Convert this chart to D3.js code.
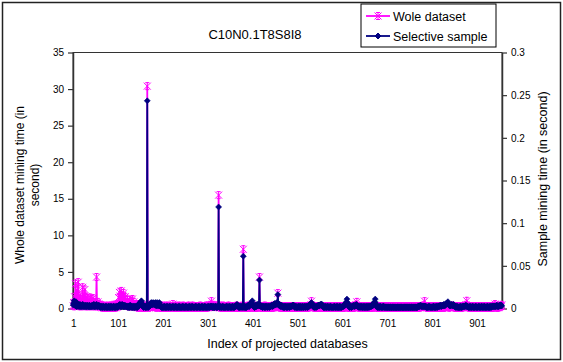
<!DOCTYPE html>
<html>
<head>
<meta charset="utf-8">
<script src="https://cdn.jsdelivr.net/npm/d3@7"></script>
<style>
  body { margin: 0; background: #fff; }
  svg { display: block; }
  text { font-family: "Liberation Sans", Arial, sans-serif; fill: #000; }
</style>
</head>
<body>
<svg id="chart" width="563" height="362"></svg>
<script>
// ---- data -------------------------------------------------------------
const chartTitle = "C10N0.1T8S8I8";
const seriesNames = ["Wole dataset", "Selective sample"];
const xTitle = "Index of projected databases";
const leftTitleLines = ["Whole dataset mining time (in", "second)"];
const rightTitle = "Sample mining time (in second)";
const xTickLabels = [1, 101, 201, 301, 401, 501, 601, 701, 801, 901];
const leftTicks = [0, 5, 10, 15, 20, 25, 30, 35];
const rightTicks = [0, 0.05, 0.1, 0.15, 0.2, 0.25, 0.3];

// mining time of the whole dataset, seconds, per projected database (index 1..956)
const wholeSec = [
  0.4,0.8,0.3,1.6,0.5,3.4,0.6,1.2,0.4,2.5,0.7,3.6,0.5,1.1,0.3,1.8,0.6,0.4,1.3,0.5,
  0.3,2.9,0.6,1.5,0.4,0.8,2.6,0.5,0.3,1.6,0.4,0.7,1.4,0.3,0.5,1.2,0.4,0.6,1.5,0.3,
  0.5,1.3,0.4,0.6,1.4,0.3,0.5,0.9,0.4,0.6,0.3,0.8,4.3,0.5,0.3,0.9,0.4,0.6,0.3,0.5,
  0.3,0.5,0.2,0.4,0.3,0.1,0.4,0.2,0.3,0.2,0.1,0.2,0.3,0.1,0.2,0.4,0.1,0.2,0.3,0.2,
  0.2,0.1,0.3,0.4,0.2,0.3,0.1,0.2,0.2,0.5,0.1,0.3,0.2,0.3,0.1,0.2,0.4,0.3,0.2,0.6,
  0.6,1.5,0.5,2.2,0.8,1.7,0.5,2.4,1.0,0.6,1.8,0.5,2.1,0.7,1.4,0.5,1.6,0.4,0.9,0.5,
  0.4,1.2,0.5,0.3,0.9,0.4,1.2,0.5,0.3,1.0,0.4,0.6,1.3,0.4,0.3,0.9,0.5,0.3,0.6,0.4,
  0.5,0.2,0.3,0.6,0.1,0.3,0.5,0.2,0.3,0.1,0.3,0.6,0.2,0.3,0.1,0.4,0.2,0.3,0.1,0.3,
  0.2,0.4,0.1,0.3,0.2,30.4,0.3,0.2,0.4,0.1,0.3,0.3,0.2,0.4,0.3,0.5,0.2,0.3,0.6,0.3,
  0.4,0.2,0.3,0.5,0.3,0.1,0.4,0.2,0.3,0.3,0.5,0.2,0.1,0.3,0.3,0.2,0.4,0.1,0.3,0.2,
  0.3,0.1,0.3,0.2,0.4,0.1,0.2,0.3,0.3,0.1,0.2,0.4,0.3,0.1,0.3,0.2,0.3,0.1,0.2,0.3,
  0.3,0.2,0.6,0.1,0.3,0.2,0.3,0.1,0.4,0.2,0.3,0.1,0.3,0.2,0.1,0.3,0.4,0.2,0.1,0.3,
  0.2,0.3,0.1,0.3,0.2,0.4,0.1,0.2,0.3,0.1,0.3,0.2,0.1,0.3,0.2,0.3,0.1,0.4,0.2,0.3,
  0.1,0.2,0.3,0.3,0.1,0.2,0.4,0.1,0.3,0.2,0.3,0.1,0.2,0.3,0.1,0.3,0.2,0.1,0.3,0.2,
  0.3,0.1,0.2,0.4,0.3,0.1,0.2,0.3,0.1,0.3,0.2,0.1,0.3,0.2,0.3,0.1,0.4,0.2,0.3,0.1,
  0.3,0.2,0.3,0.4,0.2,0.5,0.3,0.4,1.0,0.3,0.4,0.2,0.3,0.5,0.3,0.2,0.4,0.3,0.3,0.2,
  0.3,0.4,0.2,0.3,15.5,0.3,0.2,0.4,0.1,0.3,0.2,0.3,0.1,0.3,0.4,0.2,0.1,0.3,0.2,0.3,
  0.1,0.3,0.2,0.3,0.1,0.2,0.4,0.3,0.1,0.2,0.3,0.1,0.3,0.2,0.1,0.3,0.2,0.3,0.1,0.2,
  0.3,0.2,0.3,0.1,0.4,0.3,0.2,0.1,0.3,0.2,0.3,0.1,0.2,0.3,0.1,0.3,0.2,0.4,0.1,8.1,
  0.2,0.3,0.1,0.3,0.2,0.1,0.3,0.2,0.3,0.1,0.4,0.2,0.1,0.3,0.2,0.3,0.1,0.3,0.2,0.5,
  0.3,0.2,0.3,0.1,0.3,0.2,0.1,0.3,0.2,0.3,0.1,0.2,0.3,0.2,0.3,4.3,0.2,0.3,0.1,0.3,
  0.2,0.1,0.3,0.2,0.3,0.1,0.2,0.4,0.1,0.3,0.2,0.3,0.1,0.2,0.3,0.1,0.3,0.2,0.1,0.3,
  0.2,0.3,0.1,0.3,0.2,0.4,0.1,0.2,0.3,0.3,0.2,0.4,0.3,0.3,0.5,0.3,2.1,0.3,0.3,0.2,
  0.3,0.1,0.3,0.2,0.3,0.1,0.2,0.3,0.1,0.3,0.2,0.1,0.3,0.2,0.3,0.1,0.2,0.3,0.1,0.3,
  0.2,0.3,0.1,0.3,0.2,0.1,0.3,0.2,0.3,0.1,0.3,0.3,0.2,0.1,0.3,0.2,0.3,0.1,0.2,0.3,
  0.1,0.3,0.2,0.3,0.1,0.2,0.3,0.1,0.3,0.2,0.1,0.3,0.2,0.3,0.1,0.3,0.2,0.1,0.3,0.2,
  0.3,0.1,0.2,0.3,0.1,0.3,0.2,0.3,0.4,0.3,0.5,1.0,0.4,0.3,0.3,0.2,0.3,0.1,0.2,0.3,
  0.1,0.3,0.2,0.3,0.1,0.2,0.3,0.1,0.3,0.2,0.3,0.1,0.2,0.3,0.3,0.2,0.1,0.3,0.2,0.3,
  0.1,0.2,0.3,0.1,0.3,0.2,0.1,0.3,0.2,0.3,0.1,0.3,0.2,0.1,0.3,0.2,0.3,0.1,0.2,0.3,
  0.1,0.3,0.2,0.3,0.1,0.2,0.3,0.1,0.3,0.2,0.1,0.3,0.2,0.3,0.1,0.2,0.3,0.1,0.3,0.2,
  0.3,0.1,0.2,0.3,0.1,0.3,0.2,0.3,0.3,0.4,0.3,0.2,0.3,0.1,0.2,0.3,0.1,0.3,0.2,0.1,
  0.3,0.2,0.3,0.1,0.2,0.3,0.1,0.3,0.4,0.3,0.5,0.4,0.9,0.3,0.3,0.2,0.3,0.1,0.3,0.2,
  0.1,0.3,0.2,0.3,0.1,0.2,0.3,0.1,0.3,0.2,0.3,0.1,0.2,0.3,0.1,0.3,0.2,0.1,0.3,0.2,
  0.3,0.1,0.2,0.3,0.1,0.3,0.2,0.3,0.1,0.2,0.3,0.3,0.4,0.3,0.3,0.2,0.1,0.3,0.2,0.3,
  0.1,0.2,0.3,0.1,0.3,0.2,0.1,0.3,0.2,0.3,0.1,0.3,0.2,0.1,0.3,0.2,0.3,0.1,0.2,0.3,
  0.2,0.1,0.3,0.2,0.1,0.3,0.2,0.1,0.3,0.2,0.1,0.3,0.2,0.3,0.1,0.2,0.3,0.1,0.2,0.3,
  0.1,0.3,0.2,0.1,0.3,0.2,0.3,0.1,0.2,0.3,0.1,0.2,0.3,0.1,0.3,0.2,0.1,0.3,0.2,0.1,
  0.3,0.2,0.1,0.3,0.2,0.1,0.3,0.2,0.1,0.3,0.2,0.3,0.1,0.2,0.3,0.1,0.2,0.3,0.1,0.3,
  0.2,0.1,0.3,0.2,0.3,0.1,0.2,0.3,0.1,0.3,0.2,0.3,0.1,0.2,0.3,0.3,0.2,0.3,0.3,0.4,
  0.3,0.3,0.4,1.0,0.3,0.3,0.2,0.3,0.1,0.3,0.2,0.3,0.1,0.2,0.3,0.1,0.3,0.2,0.3,0.1,
  0.2,0.3,0.1,0.3,0.2,0.1,0.3,0.2,0.3,0.1,0.2,0.3,0.1,0.3,0.2,0.3,0.1,0.2,0.3,0.1,
  0.3,0.2,0.1,0.3,0.3,0.2,0.3,0.1,0.3,0.2,0.3,0.3,0.2,0.4,0.3,0.3,0.2,0.3,0.1,0.3,
  0.2,0.3,0.3,0.2,0.3,0.4,0.3,0.3,0.2,0.3,0.1,0.3,0.2,0.3,0.1,0.2,0.3,0.1,0.3,0.2,
  0.1,0.3,0.2,0.3,0.1,0.2,0.3,0.1,0.3,0.2,0.3,0.3,0.3,0.4,0.3,0.5,0.3,1.05,0.4,0.3,
  0.2,0.3,0.1,0.3,0.2,0.1,0.3,0.2,0.3,0.1,0.2,0.3,0.1,0.3,0.2,0.3,0.1,0.2,0.3,0.1,
  0.3,0.2,0.1,0.3,0.2,0.3,0.1,0.2,0.3,0.1,0.3,0.2,0.3,0.1,0.2,0.3,0.1,0.3,0.2,0.1,
  0.3,0.2,0.3,0.1,0.2,0.3,0.1,0.2,0.3,0.1,0.3,0.2,0.1,0.3,0.2,0.3,0.1,0.2,0.3,0.4,
  0.6,0.3,0.2,0.3,0.1,0.3,0.2,0.1,0.3,0.2,0.3,0.3,0.4,0.3,0.3,0.5
];

// mining time of the selective sample, milliseconds, same databases
const sampleMs = [
  4,6,9,7,5,3,8,4,2,6,5,3,4,2,3,5,2,4,3,2,
  3,5,2,4,3,2,3,4,2,3,2,4,3,2,3,2,4,2,3,2,
  3,2,4,3,2,3,5,2,3,2,4,3,5,2,3,2,3,4,2,3,
  2,1,2,3,1,2,1,3,2,1,2,1,2,3,1,2,1,2,1,3,
  2,1,2,1,3,2,1,2,1,2,3,1,2,1,2,1,3,2,1,2,
  3,2,4,3,5,2,4,3,2,5,3,4,2,3,2,4,3,2,3,2,
  2,3,1,2,3,1,2,4,2,1,3,2,1,2,3,1,2,1,3,2,
  1,2,3,1,2,4,3,5,6,7,5,8,9,6,4,3,2,1,2,3,
  2,1,3,2,1,243.4,2,1,3,2,4,3,5,6,7,5,6,4,7,6,
  5,6,4,7,5,3,6,7,4,3,5,6,7,4,3,2,3,1,2,1,
  2,1,2,3,1,2,1,2,1,3,2,1,2,1,2,3,1,2,1,2,
  1,2,3,1,2,1,2,1,3,2,1,2,1,2,1,2,3,1,2,1,
  2,1,2,1,3,2,1,2,1,2,1,3,2,1,2,1,2,1,2,3,
  1,2,1,2,1,3,2,1,2,1,2,1,2,3,1,2,1,2,1,2,
  3,1,2,1,2,1,2,3,1,2,1,2,1,3,2,1,2,1,2,1,
  2,3,1,2,1,2,3,2,3,2,1,2,3,1,2,1,2,3,2,1,
  2,1,3,2,119,2,1,3,2,1,2,1,2,3,1,2,1,2,1,2,
  1,2,3,1,2,1,2,1,3,2,1,2,1,2,1,3,2,1,2,1,
  2,3,2,3,4,5,4,3,2,1,2,1,3,2,1,2,3,2,1,61.3,
  2,1,3,2,1,2,1,2,3,2,4,3,2,4,5,6,4,7,6,9,
  5,4,3,2,1,3,2,4,2,3,5,3,4,5,3,33.3,3,4,2,3,
  2,3,1,2,3,2,1,2,3,1,2,3,2,1,2,3,2,1,2,3,
  2,3,4,3,2,4,3,5,4,6,5,4,6,5,7,5,16.3,6,4,5,
  3,4,2,3,4,2,3,2,1,2,3,1,2,3,2,1,2,3,1,2,
  2,3,1,2,3,2,3,2,3,4,3,4,3,2,1,2,3,1,2,1,
  2,1,3,2,1,2,3,1,2,1,2,3,1,2,1,2,3,2,1,2,
  3,2,1,2,3,2,4,3,5,4,6,7,5,4,3,2,3,1,2,3,
  2,1,2,3,2,3,4,3,4,3,4,5,4,5,5,4,3,2,1,2,
  1,2,3,1,2,1,2,3,1,2,1,2,1,3,2,1,2,1,2,1,
  2,1,3,2,1,2,1,2,3,1,2,1,2,1,3,2,1,2,1,2,
  2,3,2,4,3,5,4,6,5,8,11,7,5,4,3,2,1,2,3,2,
  1,2,3,2,3,4,3,2,3,4,3,5,4,3,2,3,2,1,2,3,
  2,1,2,3,1,2,1,2,3,1,2,1,2,3,1,2,1,3,2,1,
  2,3,2,3,2,3,4,3,4,5,6,7,8,11,6,4,3,2,1,2,
  2,1,2,1,3,2,1,2,1,2,1,3,2,1,2,1,2,1,2,1,
  1,2,1,2,1,1,2,1,2,1,1,2,1,2,1,1,2,1,1,2,
  1,1,2,1,2,1,1,2,1,1,2,1,2,1,1,2,1,1,2,1,
  2,1,1,2,1,2,1,1,2,1,2,1,1,2,1,2,1,1,2,1,
  1,2,1,2,1,1,2,1,2,3,2,3,2,3,4,3,2,3,2,3,
  2,3,2,3,2,3,2,1,2,1,2,1,2,3,2,1,2,1,2,1,
  2,1,2,3,1,2,1,2,1,3,2,1,2,3,2,3,2,3,4,3,
  2,3,4,3,4,3,5,4,3,4,5,6,5,6,7,8,6,5,4,3,
  4,3,4,5,4,3,4,5,4,3,2,3,2,1,2,3,2,1,2,1,
  2,1,2,3,1,2,1,2,3,2,3,2,3,2,3,4,3,2,3,2,
  2,1,2,1,3,2,1,2,1,2,3,1,2,1,2,1,2,3,1,2,
  1,2,1,2,3,1,2,1,2,1,3,2,1,2,1,2,3,1,2,1,
  2,1,2,3,1,2,1,2,1,3,2,1,2,3,2,3,2,3,2,3,
  2,3,2,3,4,3,2,3,2,3,4,3,4,3,4,3
];

// ---- layout -------------------------------------------------------------
const W = 563, H = 362;
const plot = { left: 73, right: 502, top: 52.5, bottom: 308.5 };
const colWhole = "#FF00FF", colSample = "#000080", axisCol = "#333";

const svg = d3.select("#chart");
const N = wholeSec.length;

const x = d3.scaleLinear().domain([0.5, N + 0.5]).range([plot.left, plot.right]);
const yL = d3.scaleLinear().domain([0, 35]).range([plot.bottom, plot.top]);
const yR = d3.scaleLinear().domain([0, 0.3]).range([plot.bottom, plot.top]);

const wholePts = wholeSec.map((v, i) => ({ i: i + 1, v }));
const samplePts = sampleMs.map((v, i) => ({ i: i + 1, v: v / 1000 }));

// outer chart frame
svg.append("rect").attr("x", 2.5).attr("y", 2.5).attr("width", W - 5).attr("height", H - 5)
  .attr("fill", "#fff").attr("stroke", "#222").attr("stroke-width", 1.5);

// plot-area frame
svg.append("rect").attr("x", plot.left).attr("y", plot.top)
  .attr("width", plot.right - plot.left).attr("height", plot.bottom - plot.top)
  .attr("fill", "none").attr("stroke", axisCol).attr("stroke-width", 1);

// axes
const fmtR = d3.format("~g");
const gL = svg.append("g").attr("transform", `translate(${plot.left},0)`)
  .call(d3.axisLeft(yL).tickValues(leftTicks).tickSizeInner(5).tickSizeOuter(0).tickPadding(4));
const gR = svg.append("g").attr("transform", `translate(${plot.right},0)`)
  .call(d3.axisRight(yR).tickValues(rightTicks).tickFormat(fmtR).tickSizeInner(5).tickSizeOuter(0).tickPadding(4));
const gB = svg.append("g").attr("transform", `translate(0,${plot.bottom})`)
  .call(d3.axisBottom(x).tickValues(xTickLabels).tickSize(0).tickPadding(11));
[gL, gR, gB].forEach(g => {
  g.selectAll(".domain").attr("stroke", axisCol).attr("stroke-width", 1.5);
  g.selectAll(".tick line").attr("stroke", axisCol).attr("stroke-width", 1.2);
  g.selectAll("text").attr("font-size", 10).attr("fill", "#000")
    .attr("font-family", '"Liberation Sans", Arial, sans-serif');
});

// markers
const starPath = "M-3.5,-3.5L3.5,3.5M-3.5,3.5L3.5,-3.5M0,-4L0,4M-2,-3.5L2,-3.5M-2,3.5L2,3.5";
const diamondPath = "M0,-3L3,0L0,3L-3,0Z";

// series 1: whole dataset (left axis)
const lineW = d3.line().x(d => x(d.i)).y(d => yL(d.v));
svg.append("path").datum(wholePts).attr("d", lineW)
  .attr("fill", "none").attr("stroke", colWhole).attr("stroke-width", 1.8).attr("stroke-linejoin", "round");
svg.append("g").selectAll("path").data(wholePts).join("path")
  .attr("transform", d => `translate(${x(d.i)},${yL(d.v)})`)
  .attr("d", starPath).attr("fill", "none").attr("stroke", colWhole).attr("stroke-width", 1);

// series 2: selective sample (right axis)
const lineS = d3.line().x(d => x(d.i)).y(d => yR(d.v));
svg.append("path").datum(samplePts).attr("d", lineS)
  .attr("fill", "none").attr("stroke", colSample).attr("stroke-width", 1.8).attr("stroke-linejoin", "round");
svg.append("g").selectAll("path").data(samplePts).join("path")
  .attr("transform", d => `translate(${x(d.i)},${yR(d.v)})`)
  .attr("d", diamondPath).attr("fill", colSample).attr("stroke", colSample).attr("stroke-width", 0.6);

// titles
svg.append("text").attr("x", 255).attr("y", 39).attr("text-anchor", "middle")
  .attr("font-size", 13).text(chartTitle);

svg.append("text").attr("x", (plot.left + plot.right) / 2).attr("y", 347.5)
  .attr("text-anchor", "middle").attr("font-size", 12.5).text(xTitle);

const lt = svg.append("text").attr("transform", "translate(0,185) rotate(-90)")
  .attr("text-anchor", "middle").attr("font-size", 12);
leftTitleLines.forEach((s, k) => lt.append("tspan").attr("x", 0).attr("y", 24 + k * 15).text(s));

svg.append("text").attr("transform", "translate(547,179) rotate(-90)")
  .attr("text-anchor", "middle").attr("font-size", 12.5).text(rightTitle);

// legend
const lg = svg.append("g").attr("transform", "translate(361,4)");
lg.append("rect").attr("width", 135).attr("height", 43)
  .attr("fill", "#fff").attr("stroke", "#000").attr("stroke-width", 1);
const legendRows = [
  { name: seriesNames[0], color: colWhole, marker: starPath, fill: "none" },
  { name: seriesNames[1], color: colSample, marker: diamondPath, fill: colSample }
];
legendRows.forEach((r, k) => {
  const cy = 12 + k * 20;
  lg.append("line").attr("x1", 5).attr("x2", 29).attr("y1", cy).attr("y2", cy)
    .attr("stroke", r.color).attr("stroke-width", 1.8);
  lg.append("path").attr("transform", `translate(17,${cy})`).attr("d", r.marker)
    .attr("fill", r.fill).attr("stroke", r.color).attr("stroke-width", 1);
  lg.append("text").attr("x", 32).attr("y", cy + 4.5).attr("font-size", 12.5).text(r.name);
});
</script>
</body>
</html>
